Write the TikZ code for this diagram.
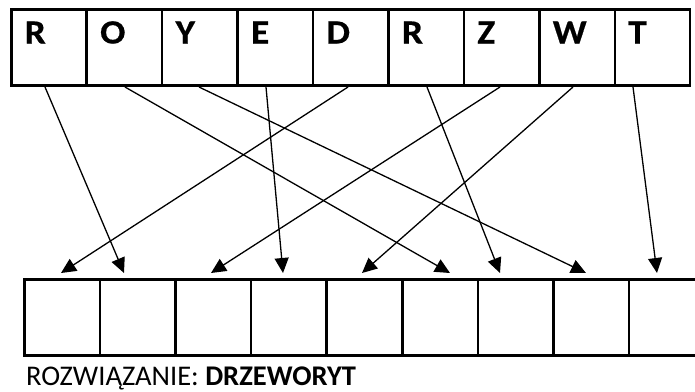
\documentclass[tikz,border=0pt]{standalone}
\usepackage{fontspec}
\setmainfont{Carlito}
\newfontfamily\bigletters{Carlito}[FakeStretch=1.1,FakeBold=0.6]
\usetikzlibrary{arrows.meta}
\begin{document}
\begin{tikzpicture}[x=1pt,y=-1pt,
  topcell/.style={draw,line width=2.5pt,minimum width=75.44pt,minimum height=76pt,inner sep=0pt,anchor=north west},
  botcell/.style={draw,line width=2.5pt,minimum width=75.6pt,minimum height=76pt,inner sep=0pt,anchor=north west},
  letter/.style={anchor=base west,inner sep=0pt,font=\bigletters\bfseries\fontsize{34}{34}\selectfont},
  link/.style={line width=1.3pt,-{Triangle[length=15pt,width=14pt]}}]
\useasboundingbox (0,0) rectangle (695,391);
% top row
\foreach \l [count=\i from 0] in {R,O,Y,E,D,R,Z,W,T}{
  \node[topcell] (t\i) at ({10+75.44*\i},8) {};
  \node[letter] (L\i) at ({10+75.44*\i+14.5},43.5) {\l};
}
% bottom row
\foreach \i in {0,...,8}{
  \node[botcell] (b\i) at ({23+75.6*\i},278) {};
}
% start points
\coordinate (sR1) at (45,87);
\coordinate (sO) at (125,87);
\coordinate (sY) at (199,87);
\coordinate (sE) at (266,87);
\coordinate (sD) at (348,87);
\coordinate (sR2) at (427,87);
\coordinate (sZ) at (500,87);
\coordinate (sW) at (573,87);
\coordinate (sT) at (633,87);
% end points
\coordinate (e1) at (61,273);
\coordinate (e2) at (124,273);
\coordinate (e3) at (211,273);
\coordinate (e4) at (283,273);
\coordinate (e5) at (362,273);
\coordinate (e6) at (450,273);
\coordinate (e7) at (500,273);
\coordinate (e8) at (586,273);
\coordinate (e9) at (657,273);
\draw[link] (sD) -- (e1);
\draw[link] (sR1) -- (e2);
\draw[link] (sZ) -- (e3);
\draw[link] (sE) -- (e4);
\draw[link] (sW) -- (e5);
\draw[link] (sO) -- (e6);
\draw[link] (sR2) -- (e7);
\draw[link] (sY) -- (e8);
\draw[link] (sT) -- (e9);
\node[anchor=base west,inner sep=0pt,font=\fontsize{28.5}{28.5}\selectfont] (sol) at (26,385) {ROZWIĄZANIE: \textbf{DRZEWORYT}};
\end{tikzpicture}
\end{document}
